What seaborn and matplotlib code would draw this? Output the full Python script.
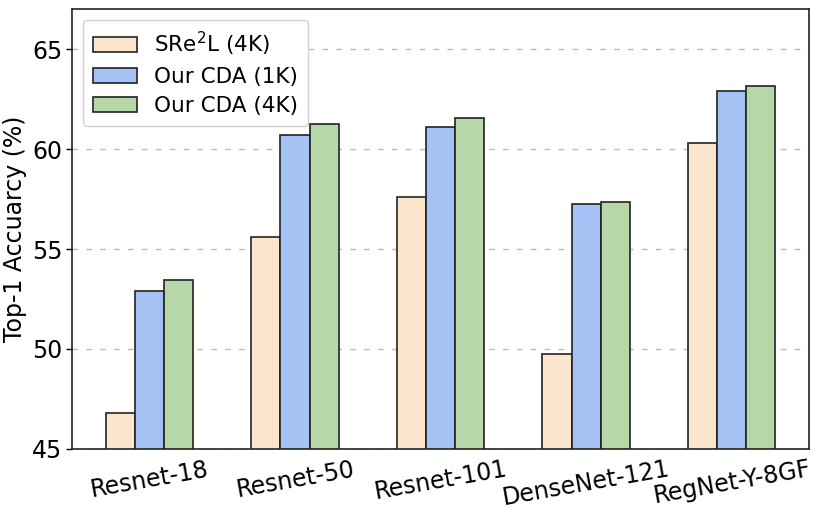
import pandas as pd
import numpy as np
import matplotlib
matplotlib.use('Agg')
import matplotlib.pyplot as plt
import seaborn as sns

# 数据
models = ['Resnet-18', 'Resnet-50', 'Resnet-101', 'DenseNet-121', 'RegNet-Y-8GF']
methods = ['SRe$^2$L (4K)', 'Our CDA (1K)', 'Our CDA (4K)']
sre2l_4k = [46.8, 55.6, 57.6, 49.75, 60.3]
cda_1k = [52.88, 60.7, 61.1, 57.25, 62.93]
cda_4k = [53.45, 61.25, 61.56, 57.33, 63.18]
palette = ['#FCE5CD', '#A4C2F4', '#B6D7A8']

rows = []
for i, m in enumerate(models):
    rows.append([m, methods[0], sre2l_4k[i]])
    rows.append([m, methods[1], cda_1k[i]])
    rows.append([m, methods[2], cda_4k[i]])
data = pd.DataFrame(rows, columns=['model', 'method', 'acc'])

sns.set_style('white')
plt.rcParams['font.family'] = ['DejaVu Sans']
plt.rcParams['text.color'] = 'black'
plt.rcParams['axes.labelcolor'] = 'black'
plt.rcParams['xtick.color'] = 'black'
plt.rcParams['ytick.color'] = 'black'

fig, ax = plt.subplots(figsize=(8.22, 5.2), dpi=100)
sns.barplot(data=data, x='model', y='acc', hue='method', palette=palette,
            width=0.6, edgecolor='#222222', linewidth=1.2, saturation=1, ax=ax)

ax.set_ylim(45, 67)
ax.set_xlim(-0.53, 4.53)
ax.set_yticks([45, 50, 55, 60, 65])
ax.yaxis.grid(True, linestyle=(0, (4, 6)), color='#bbbbbb', linewidth=1)
ax.set_axisbelow(True)
for s in ax.spines.values():
    s.set_color('#222222')
    s.set_linewidth(1.2)
    s.set_visible(True)

ax.set_xlabel('')
ax.set_ylabel('Top-1 Accuarcy (%)', fontsize=17, labelpad=4)
ax.tick_params(axis='y', labelsize=17, length=4, width=1, direction='out', left=True, pad=3)
ax.tick_params(axis='x', labelsize=17, length=0, pad=6)
plt.setp(ax.get_xticklabels(), rotation=10)

ax.legend(loc='upper left', fontsize=15.5, frameon=True, fancybox=True,
          handlelength=2.05, handleheight=0.7, borderpad=0.45, labelspacing=0.42,
          handletextpad=0.8, edgecolor='#d0d0d0', framealpha=1)

plt.subplots_adjust(left=0.088, right=0.984, top=0.982, bottom=0.137)
plt.savefig('out.png', dpi=100)
